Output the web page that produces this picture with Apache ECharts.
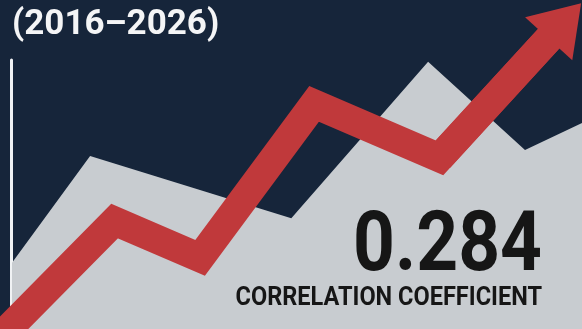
<!DOCTYPE html>
<html>
<head>
<meta charset="utf-8">
<script src="https://cdn.jsdelivr.net/npm/echarts@6/dist/echarts.min.js"></script>
<style>
html,body{margin:0;padding:0;background:#16253a;}
#chart{width:582px;height:329px;}
</style>
</head>
<body>
<div id="chart"></div>
<script>
// Background (gray) index: [year, value]
var areaYears  = [2016, 2017.37, 2020.9, 2023.3, 2025.0, 2026];
var areaValues = [20.1, 52.6, 33.7, 81.2, 54.4, 62.6];
// Red trend line: [year, value]
var trendYears  = [2015.7, 2017.8, 2019.3, 2021.3, 2023.5, 2025.7];
var trendValues = [-4, 32.8, 21.6, 68.4, 52.0, 93.6];
var titleText = '(2016\u20132026)';
var correlation = 0.284;
var correlationLabel = 'CORRELATION COEFFICIENT';

var areaData = areaYears.map(function (y, i) { return [y, areaValues[i]]; });
var trendCoords = trendYears.map(function (y, i) { return [y, trendValues[i]]; });
var lastSeg = trendCoords.slice(trendCoords.length - 2);

var RED = '#c0393b';
var chart = echarts.init(document.getElementById('chart'), null, {renderer: 'canvas'});
chart.setOption({
  backgroundColor: '#16253a',
  animation: false,
  grid: [
    {left: 12, right: 0, top: 0, bottom: 0},
    {left: 11, right: 0, top: 60, bottom: 0}
  ],
  xAxis: [
    {type: 'value', gridIndex: 0, min: 2016, max: 2026, show: false},
    {type: 'value', gridIndex: 1, min: 2016, max: 2026, show: false}
  ],
  yAxis: [
    {type: 'value', gridIndex: 0, min: 0, max: 100, show: false},
    {type: 'value', gridIndex: 1, min: 0, max: 100,
     axisLine: {show: true, lineStyle: {color: '#f0f2f4', width: 3}},
     axisTick: {show: false}, axisLabel: {show: false}, splitLine: {show: false}}
  ],
  series: [
    {
      type: 'line', xAxisIndex: 0, yAxisIndex: 0,
      data: areaData, symbol: 'none',
      lineStyle: {width: 0},
      areaStyle: {color: '#c8ccd0', opacity: 1},
      z: 1
    },
    {
      type: 'lines', coordinateSystem: 'cartesian2d', xAxisIndex: 0, yAxisIndex: 0,
      polyline: true,
      data: [{coords: trendCoords}],
      lineStyle: {color: RED, width: 29, opacity: 1, join: 'miter', cap: 'butt'},
      z: 3
    },
    {
      type: 'lines', coordinateSystem: 'cartesian2d', xAxisIndex: 0, yAxisIndex: 0,
      data: [{coords: lastSeg}],
      symbol: ['none', 'path://M5,0L10,10L0,10Z'],
      symbolSize: [0, [64, 48]],
      lineStyle: {color: RED, width: 29, opacity: 1},
      z: 4
    }
  ],
  graphic: [
    {type: 'text', x: 12, y: 25, z: 100,
     style: {text: titleText, font: 'bold 35px Roboto', fill: '#f4f5f6', textAlign: 'left', verticalAlign: 'middle'}},
    {type: 'text', x: 542, y: 249, scaleX: 0.87, z: 100,
     style: {text: correlation.toFixed(3), font: 'bold 84px Roboto', fill: '#161616', textAlign: 'right', verticalAlign: 'middle'}},
    {type: 'text', x: 542, y: 298, scaleX: 0.905, z: 100,
     style: {text: correlationLabel, font: 'bold 26px Roboto', fill: '#161616', textAlign: 'right', verticalAlign: 'middle'}}
  ]
});
</script>
</body>
</html>
